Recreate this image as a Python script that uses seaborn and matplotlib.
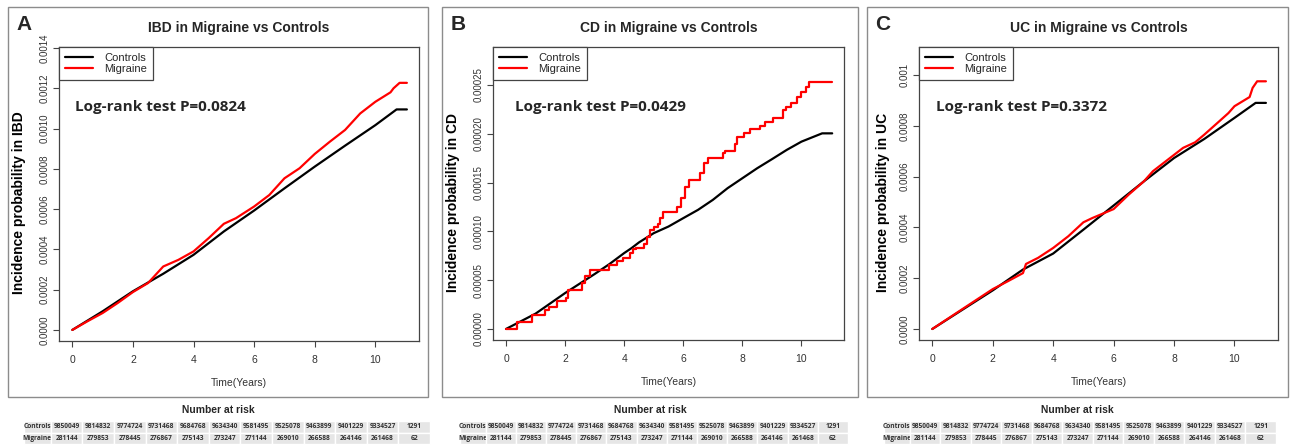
import matplotlib
matplotlib.use("Agg")
import matplotlib.pyplot as plt
from matplotlib.patches import Rectangle
import numpy as np
import pandas as pd
import seaborn as sns

# ---- data ----
ibd_ctrl_t = [0, 1, 2, 3, 4, 5, 6, 7, 8, 9, 10, 10.7, 11.04]
ibd_ctrl_p = [0, 0.0000925, 0.000192, 0.000279, 0.000373, 0.000489, 0.000593,
              0.000703, 0.000811, 0.000915, 0.001017, 0.001095, 0.001095]
ibd_mig_t = [0, 0.5, 1, 1.5, 2, 2.5, 3, 3.5, 4, 4.5, 5, 5.4, 6, 6.5, 7, 7.5,
             8, 8.5, 9, 9.5, 10, 10.5, 10.6, 10.8, 11.04]
ibd_mig_p = [0, 0.000043, 0.000084, 0.000134, 0.000188, 0.000233, 0.000315,
             0.000348, 0.00039, 0.000456, 0.000527, 0.000555, 0.000613, 0.00067,
             0.000753, 0.000803, 0.000874, 0.000935, 0.000993, 0.001075,
             0.001133, 0.00118, 0.0012, 0.001227, 0.001227]

cd_ctrl_t = [0, 1, 2, 3, 3.5, 4, 4.25, 4.5, 5, 5.5, 6, 6.5, 7, 7.5, 8, 8.5,
             9, 9.5, 10, 10.7, 11.04]
cd_ctrl_p = [0, 0.0000157, 0.0000368, 0.0000563, 0.0000665, 0.0000778,
             0.0000829, 0.0000887, 0.0000982, 0.000105, 0.0001136, 0.0001221,
             0.0001323, 0.0001443, 0.0001545, 0.0001647, 0.000174, 0.0001835,
             0.000192, 0.0002005, 0.0002005]
cd_mig_t = [0, 0.38, 0.87, 1.32, 1.46, 1.74, 2.03, 2.11, 2.56, 2.68, 2.85, 3.50,
            3.75, 3.95, 4.18, 4.29, 4.41, 4.66, 4.77, 4.88, 5.02, 5.16, 5.22,
            5.33, 5.79, 5.92, 6.07, 6.18, 6.55, 6.69, 6.82, 7.33, 7.42, 7.76,
            7.82, 8.05, 8.27, 8.61, 8.78, 9.04, 9.38, 9.46, 9.63, 9.85, 9.97,
            10.14, 10.25, 11.04]
cd_mig_p = [0, 7.2e-6, 1.47e-5, 1.98e-5, 2.25e-5, 2.83e-5, 3.17e-5, 3.96e-5,
            4.71e-5, 5.39e-5, 6.07e-5, 6.58e-5, 6.92e-5, 7.27e-5, 7.78e-5,
            8.19e-5, 8.29e-5, 8.7e-5, 9.41e-5, 1.016e-4, 1.044e-4, 1.078e-4,
            1.136e-4, 1.197e-4, 1.255e-4, 1.34e-4, 1.46e-4, 1.528e-4, 1.596e-4,
            1.698e-4, 1.75e-4, 1.8e-4, 1.828e-4, 1.896e-4, 1.971e-4, 2.012e-4,
            2.053e-4, 2.08e-4, 2.125e-4, 2.159e-4, 2.244e-4, 2.278e-4, 2.312e-4,
            2.38e-4, 2.432e-4, 2.476e-4, 2.527e-4, 2.527e-4]

uc_ctrl_t = [0, 1, 2, 3, 4, 5, 6, 7, 8, 9, 10, 10.7, 11.04]
uc_ctrl_p = [0, 0.0000761, 0.000152, 0.000234, 0.000297, 0.000391, 0.000486,
             0.000581, 0.000673, 0.000748, 0.000831, 0.00089, 0.00089]
uc_mig_t = [0, 1, 2, 2.5, 3, 3.1, 3.5, 4, 4.5, 5, 5.3, 6, 6.5, 7, 7.3, 7.8,
            8.3, 8.7, 9, 9.5, 9.8, 10, 10.5, 10.6, 10.75, 11.04]
uc_mig_p = [0, 0.0000787, 0.000157, 0.000188, 0.00022, 0.000256, 0.00028,
            0.000319, 0.000365, 0.00042, 0.000437, 0.000472, 0.000529, 0.000581,
            0.000621, 0.000667, 0.000713, 0.000735, 0.000765, 0.000818, 0.00085,
            0.000877, 0.000913, 0.000949, 0.000975, 0.000975]

panel_letters = ["A", "B", "C"]
titles = ["IBD in Migraine vs Controls", "CD in Migraine vs Controls",
          "UC in Migraine vs Controls"]
ylabels = ["Incidence probability in IBD", "Incidence probability in CD",
           "Incidence probability in UC"]
pvalues = ["Log-rank test P=0.0824", "Log-rank test P=0.0429",
           "Log-rank test P=0.3372"]
yticks = [[0, 0.0002, 0.0004, 0.0006, 0.0008, 0.0010, 0.0012, 0.0014],
          [0, 0.00005, 0.00010, 0.00015, 0.00020, 0.00025],
          [0, 0.0002, 0.0004, 0.0006, 0.0008, 0.001]]
ytick_labels = [["0.0000", "0.0002", "0.0004", "0.0006", "0.0008", "0.0010",
                 "0.0012", "0.0014"],
                ["0.00000", "0.00005", "0.00010", "0.00015", "0.00020", "0.00025"],
                ["0.0000", "0.0002", "0.0004", "0.0006", "0.0008", "0.001"]]
ylims = [(-0.000055, 0.001405), (-0.0000113, 0.000289), (-0.0000433, 0.00111)]
xticks = [0, 2, 4, 6, 8, 10]

risk_groups = ["Controls", "Migraine"]
risk_controls = ["9850049", "9814832", "9774724", "9731468", "9684768", "9634340",
                 "9581495", "9525078", "9463899", "9401229", "9334527", "1291"]
risk_migraine = ["281144", "279853", "278445", "276867", "275143", "273247",
                 "271144", "269010", "266588", "264146", "261468", "62"]

series = [
    (ibd_ctrl_t, ibd_ctrl_p, ibd_mig_t, ibd_mig_p, "default"),
    (cd_ctrl_t, cd_ctrl_p, cd_mig_t, cd_mig_p, "steps-post"),
    (uc_ctrl_t, uc_ctrl_p, uc_mig_t, uc_mig_p, "default"),
]

# ---- layout (pixels of a 1292x445 canvas) ----
W, H = 1292, 445
axes_px = [(59, 47, 419, 341), (493, 47, 844, 340), (919, 47, 1278, 340)]
box_px = [(8, 7, 428, 397), (442, 7, 858, 397), (867, 7, 1288, 397)]
table_px = [(24, 421, 430, 444), (460, 421, 848, 444), (884, 421, 1276, 444)]
text_x = [0.044, 0.063, 0.047]
ylabel_px = [26, 460, 890]
bold_family = ["Open Sans", "DejaVu Sans"]

sns.set_style("white")
plt.rcParams["font.family"] = ["Liberation Sans", "DejaVu Sans"]

fig = plt.figure(figsize=(W / 100, H / 100), dpi=100)


def fx(px):
    return px / W


def fy(py):
    return 1 - py / H


for i in range(3):
    x0, y0, x1, y1 = box_px[i]
    fig.patches.append(Rectangle((fx(x0), fy(y1)), fx(x1 - x0), (y1 - y0) / H,
                                 transform=fig.transFigure, fill=False,
                                 edgecolor="#8c8c8c", linewidth=1.0))
    fig.text(fx(x0 + 16), fy(y0 + 17), panel_letters[i], fontsize=15,
             fontweight="bold", ha="center", va="center")

    l, t, r, b = axes_px[i]
    ax = fig.add_axes([fx(l), fy(b), fx(r - l), (b - t) / H])
    ct, cp, mt, mp, style = series[i]
    sns.lineplot(x=ct, y=cp, ax=ax, color="black", linewidth=1.6,
                 label="Controls")
    sns.lineplot(x=mt, y=mp, ax=ax, color="#ff0000", linewidth=1.6,
                 label="Migraine", drawstyle=style)

    ax.set_xlim(-0.44, 11.44)
    ax.set_ylim(*ylims[i])
    ax.set_xticks(xticks)
    ax.set_xticklabels([str(v) for v in xticks], fontsize=7.5, color="#333333")
    ax.set_yticks(yticks[i])
    ax.set_yticklabels(ytick_labels[i], fontsize=7, color="#333333",
                       rotation=90, va="center")
    ax.tick_params(axis="both", direction="out", length=4, width=0.8,
                   color="#444444", left=True, bottom=True)
    ax.tick_params(axis="y", pad=3)
    ax.tick_params(axis="x", pad=6)
    for sp in ax.spines.values():
        sp.set_color("#444444")
        sp.set_linewidth(0.9)

    ax.set_xlabel("Time(Years)", fontsize=7.5, color="#333333")
    ax.xaxis.set_label_coords(0.5, -0.125)
    ax.set_ylabel(ylabels[i], fontsize=10, fontweight="bold", color="black")
    ax.yaxis.set_label_coords((ylabel_px[i] - l) / (r - l), 0.47)

    ax.text(0.5, 1.065, titles[i], transform=ax.transAxes, ha="center",
            va="center", fontsize=10, fontweight="bold")
    ax.text(text_x[i], 0.796, pvalues[i], transform=ax.transAxes, ha="left",
            va="center", fontsize=11, fontweight="bold", family=bold_family)

    leg = ax.legend(loc="upper left", borderaxespad=0, fancybox=False,
                    edgecolor="#444444", fontsize=8, handlelength=2.6,
                    borderpad=0.5, labelspacing=0.15, handletextpad=1.0,
                    framealpha=1)
    leg.get_frame().set_linewidth(0.9)

    # number at risk
    fig.text(fx((x0 + x1) / 2), fy(410), "Number at risk", fontsize=7.4,
             fontweight="bold", ha="center", va="center")
    tl, tt, tr, tb = table_px[i]
    tax = fig.add_axes([fx(tl), fy(tb), fx(tr - tl), (tb - tt) / H])
    tax.axis("off")
    cells = [[risk_groups[0]] + risk_controls, [risk_groups[1]] + risk_migraine]
    colors = [["#e6e6e6"] * 13 for _ in range(2)]
    tab = tax.table(cellText=cells, cellColours=colors, cellLoc="center",
                    bbox=[0, 0, 1, 1],
                    colWidths=[0.066] + [0.078] * 12)
    tab.auto_set_font_size(False)
    tab.set_fontsize(4.8)
    for (rr, cc), cell in tab.get_celld().items():
        cell.set_edgecolor("white")
        cell.set_linewidth(1.0)
        cell.get_text().set_fontweight("bold")
        cell.get_text().set_color("#333333")
        cell.get_text().set_family(bold_family)

fig.savefig("out.png", dpi=100)
